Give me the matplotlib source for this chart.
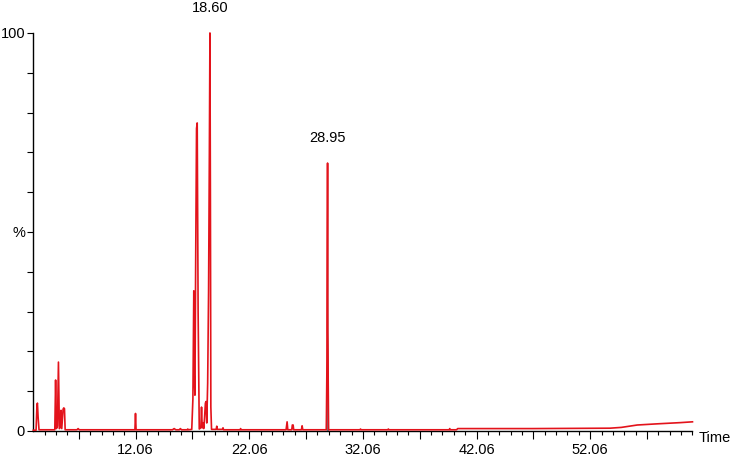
import matplotlib
matplotlib.use("Agg")
import matplotlib.pyplot as plt
import numpy as np

plt.rcParams['font.family'] = ['Liberation Sans', 'DejaVu Sans']

# Chromatogram trace vertices (time in min, relative intensity %)
times = [3.06, 3.30, 3.38, 3.42, 3.48, 3.56, 4.95, 5.02, 5.09, 5.18, 5.27, 5.35, 5.45,
         5.50, 5.56, 5.68, 5.74, 5.80, 5.86, 6.9, 7.0, 7.1, 12.00, 12.05, 12.10,
         15.3, 15.45, 15.6, 15.9, 16.0, 16.1, 16.6, 16.65, 16.7, 17.00, 17.10, 17.18,
         17.22, 17.28, 17.34, 17.42, 17.48, 17.56, 17.66, 17.80, 17.86, 17.92, 18.00,
         18.05, 18.12, 18.20, 18.26, 18.32, 18.40, 18.48, 18.55, 18.60, 18.64, 18.68,
         18.74, 19.15, 19.20, 19.25, 19.70, 19.75, 19.80, 21.25, 21.30, 21.35, 25.30,
         25.39, 25.45, 25.80, 25.85, 25.92, 25.97, 26.65, 26.71, 26.77, 28.84, 28.90,
         28.93, 28.95, 28.97, 29.04, 31.8, 31.85, 31.9, 34.25, 34.3, 34.35, 39.65,
         39.7, 39.75, 40.3, 40.4, 47.0, 53.8, 54.8, 56.2, 58.0, 60.0, 61.06]
intensity = [0.2, 0.2, 6.5, 7.0, 3.5, 0.3, 0.3, 12.8, 0.6, 1.2, 17.3, 0.6, 1.0,
             5.2, 0.6, 5.5, 5.8, 5.6, 0.3, 0.3, 0.6, 0.3, 0.3, 4.4, 0.3,
             0.3, 0.6, 0.3, 0.3, 0.6, 0.3, 0.3, 0.5, 0.3, 0.4, 8.0, 35.2,
             14.0, 9.0, 40.0, 76.0, 77.4, 30.0, 0.5, 0.8, 6.0, 0.8, 2.0,
             0.6, 3.0, 7.0, 7.4, 2.0, 12.0, 35.0, 70.0, 100.0, 60.0, 6.0,
             0.4, 0.4, 1.2, 0.4, 0.4, 0.8, 0.3, 0.3, 0.6, 0.3, 0.3,
             2.3, 0.3, 0.3, 1.5, 1.5, 0.3, 0.3, 1.3, 0.3, 0.3, 18.0,
             48.4, 67.3, 25.0, 0.3, 0.3, 0.5, 0.3, 0.3, 0.5, 0.3, 0.3,
             0.6, 0.3, 0.3, 0.6, 0.6, 0.7, 0.9, 1.5, 1.8, 2.1, 2.3]

# Integrated peak window (teal fill)
fill_window = [28.84, 29.04]

peak_labels = ["18.60", "28.95"]
peak_label_pos = [(18.60, 100.0), (28.95, 67.3)]

x_min, x_max = 3.06, 61.06
major_labels = [12.06, 22.06, 32.06, 42.06, 52.06]

fig = plt.figure(figsize=(7.31, 4.58), dpi=100)
ax = fig.add_axes([0.0456, 0.059, 0.9017, 0.869])

t = np.array(times)
y = np.array(intensity)
mask = (t >= fill_window[0]) & (t <= fill_window[1])
ax.fill_between(t[mask], 0, y[mask], color='#4f8f9c', lw=0, zorder=2)
ax.plot(t, y, color='#e3131b', lw=1.2, zorder=3, clip_on=False)
ax.plot(t[mask], y[mask], color='#e3131b', lw=0.6, zorder=4)

ax.set_xlim(x_min, x_max)
ax.set_ylim(0, 100)

for s in ['top', 'right']:
    ax.spines[s].set_visible(False)
for s in ['left', 'bottom']:
    ax.spines[s].set_linewidth(1.0)
    ax.spines[s].set_color('black')

# y ticks
ax.set_yticks(np.arange(0, 101, 10))
ax.set_yticklabels(['0', '', '', '', '', '%', '', '', '', '', '100'])
ax.tick_params(axis='y', direction='out', length=4, width=0.8, labelsize=10.5, pad=2)

# x ticks: major every 5 (labels every 10), minor every 1
xt = np.arange(7.06, x_max + 0.01, 5.0)
ax.set_xticks(xt)
ax.set_xticklabels([f"{v:.2f}" if any(abs(v - m) < 1e-6 for m in major_labels) else '' for v in xt])
ax.set_xticks(np.arange(4.06, x_max + 0.01, 1.0), minor=True)
ax.tick_params(axis='x', which='major', direction='out', length=6, width=0.8, labelsize=10.5, pad=3)
ax.tick_params(axis='x', which='minor', direction='out', length=3, width=0.8)

for lab, (px, py) in zip(peak_labels, peak_label_pos):
    ax.annotate(lab, xy=(px, py), xytext=(0, 13), textcoords='offset points',
                ha='center', va='bottom', fontsize=10.5, annotation_clip=False)

ax.text(1.01, 0.0, 'Time', transform=ax.transAxes, ha='left', va='top', fontsize=10.5)

fig.savefig('out.png', dpi=100)
